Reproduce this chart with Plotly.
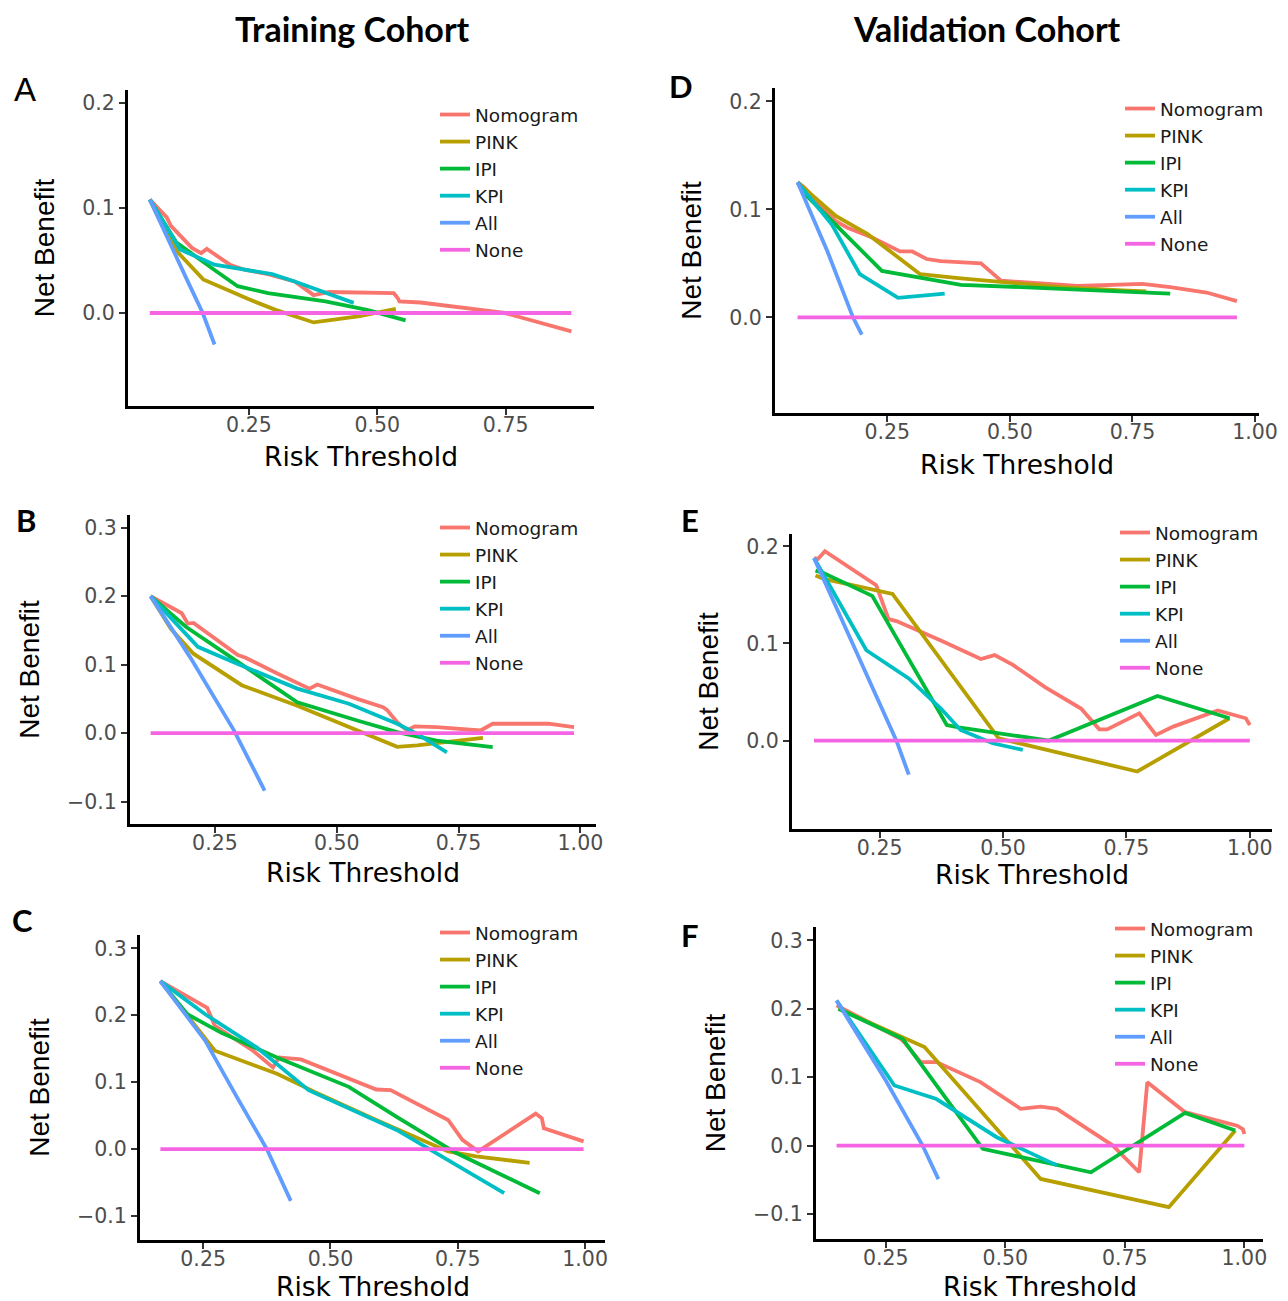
import plotly.graph_objects as go

W, H = 1288, 1301

SERIES = ["Nomogram", "PINK", "IPI", "KPI", "All", "None"]
COLORS = ["#F8766D", "#B79F00", "#00BA38", "#00BFC4", "#619CFF", "#F564E3"]
X_TICKS = [0.25, 0.50, 0.75, 1.00]
Y_TICKS = [-0.1, 0.0, 0.1, 0.2, 0.3]

# ---- Panel A (Training) ----
A_nomogram_x = [0.057, 0.090, 0.098, 0.139, 0.157, 0.168, 0.213, 0.243, 0.287, 0.339, 0.362, 0.376, 0.406, 0.532, 0.540, 0.543, 0.584, 0.748, 0.878]
A_nomogram_y = [0.108, 0.091, 0.083, 0.062, 0.057, 0.061, 0.046, 0.041, 0.037, 0.030, 0.022, 0.017, 0.020, 0.019, 0.014, 0.011, 0.010, 0.000, -0.0175]
A_pink_x = [0.057, 0.085, 0.113, 0.161, 0.250, 0.302, 0.376, 0.466, 0.536]
A_pink_y = [0.108, 0.080, 0.057, 0.032, 0.013, 0.003, -0.009, -0.003, 0.004]
A_ipi_x = [0.057, 0.109, 0.183, 0.228, 0.287, 0.399, 0.480, 0.555]
A_ipi_y = [0.108, 0.067, 0.041, 0.0255, 0.019, 0.011, 0.003, -0.007]
A_kpi_x = [0.057, 0.116, 0.183, 0.243, 0.295, 0.339, 0.399, 0.454]
A_kpi_y = [0.108, 0.0605, 0.046, 0.041, 0.037, 0.030, 0.019, 0.0096]
A_all_x = [0.057, 0.100, 0.129, 0.160, 0.183]
A_all_y = [0.108, 0.062, 0.032, 0.000, -0.030]
A_none_x = [0.057, 0.878]
A_none_y = [0.0, 0.0]

# ---- Panel B (Training) ----
B_nomogram_x = [0.118, 0.182, 0.194, 0.206, 0.297, 0.313, 0.378, 0.444, 0.460, 0.542, 0.595, 0.603, 0.624, 0.644, 0.660, 0.705, 0.795, 0.820, 0.934, 0.987]
B_nomogram_y = [0.200, 0.175, 0.160, 0.161, 0.114, 0.110, 0.087, 0.065, 0.071, 0.050, 0.038, 0.034, 0.016, 0.004, 0.0098, 0.0088, 0.0039, 0.0137, 0.0137, 0.0088]
B_pink_x = [0.118, 0.160, 0.206, 0.305, 0.419, 0.542, 0.624, 0.665, 0.800]
B_pink_y = [0.200, 0.152, 0.116, 0.070, 0.040, 0.004, -0.020, -0.018, -0.007]
B_ipi_x = [0.118, 0.191, 0.297, 0.419, 0.542, 0.624, 0.705, 0.820]
B_ipi_y = [0.200, 0.155, 0.104, 0.045, 0.0185, 0.0015, -0.011, -0.0205]
B_kpi_x = [0.118, 0.215, 0.297, 0.419, 0.525, 0.624, 0.665, 0.726]
B_kpi_y = [0.200, 0.126, 0.101, 0.065, 0.043, 0.0137, -0.001, -0.028]
B_all_x = [0.118, 0.199, 0.289, 0.352]
B_all_y = [0.200, 0.111, 0.004, -0.084]
B_none_x = [0.118, 0.987]
B_none_y = [0.0, 0.0]

# ---- Panel C (Training) ----
C_nomogram_x = [0.166, 0.250, 0.258, 0.273, 0.348, 0.387, 0.399, 0.442, 0.504, 0.575, 0.590, 0.618, 0.731, 0.759, 0.790, 0.903, 0.915, 0.919, 0.997]
C_nomogram_y = [0.251, 0.215, 0.211, 0.184, 0.147, 0.122, 0.137, 0.134, 0.115, 0.093, 0.089, 0.088, 0.0435, 0.0138, -0.0035, 0.053, 0.046, 0.031, 0.0114]
C_pink_x = [0.166, 0.273, 0.395, 0.473, 0.590, 0.731, 0.786, 0.891]
C_pink_y = [0.251, 0.147, 0.1126, 0.084, 0.0435, -0.0035, -0.011, -0.0207]
C_ipi_x = [0.166, 0.219, 0.285, 0.395, 0.536, 0.630, 0.747, 0.911]
C_ipi_y = [0.251, 0.2015, 0.174, 0.137, 0.093, 0.048, -0.006, -0.066]
C_kpi_x = [0.166, 0.254, 0.355, 0.457, 0.630, 0.708, 0.841]
C_kpi_y = [0.251, 0.2015, 0.152, 0.088, 0.0286, -0.006, -0.066]
C_all_x = [0.166, 0.254, 0.316, 0.375, 0.422]
C_all_y = [0.251, 0.162, 0.078, 0.0, -0.0775]
C_none_x = [0.166, 0.997]
C_none_y = [0.0, 0.0]

# ---- Panel D (Validation) ----
D_nomogram_x = [0.067, 0.079, 0.145, 0.169, 0.219, 0.276, 0.301, 0.330, 0.359, 0.441, 0.482, 0.638, 0.770, 0.827, 0.901, 0.963]
D_nomogram_y = [0.125, 0.121, 0.089, 0.083, 0.074, 0.061, 0.061, 0.054, 0.052, 0.050, 0.034, 0.029, 0.031, 0.028, 0.023, 0.015]
D_pink_x = [0.067, 0.145, 0.210, 0.317, 0.400, 0.498, 0.605, 0.729, 0.778]
D_pink_y = [0.125, 0.094, 0.077, 0.040, 0.036, 0.032, 0.028, 0.025, 0.024]
D_ipi_x = [0.067, 0.087, 0.239, 0.276, 0.400, 0.523, 0.827]
D_ipi_y = [0.125, 0.112, 0.043, 0.040, 0.030, 0.028, 0.022]
D_kpi_x = [0.067, 0.087, 0.137, 0.194, 0.272, 0.367]
D_kpi_y = [0.125, 0.114, 0.086, 0.040, 0.018, 0.022]
D_all_x = [0.067, 0.128, 0.180, 0.198]
D_all_y = [0.125, 0.061, 0.0, -0.016]
D_none_x = [0.067, 0.963]
D_none_y = [0.0, 0.0]

# ---- Panel E (Validation) ----
E_nomogram_x = [0.117, 0.125, 0.139, 0.243, 0.268, 0.284, 0.374, 0.455, 0.483, 0.520, 0.585, 0.658, 0.695, 0.711, 0.776, 0.810, 0.845, 0.935, 0.992, 1.000]
E_nomogram_y = [0.188, 0.187, 0.195, 0.160, 0.125, 0.123, 0.103, 0.084, 0.088, 0.078, 0.055, 0.033, 0.0116, 0.0116, 0.028, 0.0058, 0.0144, 0.031, 0.023, 0.016]
E_pink_x = [0.120, 0.137, 0.276, 0.491, 0.772, 0.959]
E_pink_y = [0.170, 0.1665, 0.151, 0.0024, -0.0318, 0.023]
E_ipi_x = [0.120, 0.134, 0.235, 0.386, 0.410, 0.593, 0.813, 0.959]
E_ipi_y = [0.175, 0.173, 0.149, 0.016, 0.0137, 0.0, 0.046, 0.023]
E_kpi_x = [0.117, 0.178, 0.223, 0.309, 0.374, 0.414, 0.479, 0.540]
E_kpi_y = [0.188, 0.134, 0.093, 0.064, 0.033, 0.011, -0.0027, -0.0096]
E_all_x = [0.117, 0.200, 0.284, 0.309]
E_all_y = [0.188, 0.094, 0.0, -0.035]
E_none_x = [0.117, 1.000]
E_none_y = [0.0, 0.0]

# ---- Panel F (Validation) ----
F_nomogram_x = [0.147, 0.281, 0.289, 0.323, 0.356, 0.448, 0.532, 0.574, 0.608, 0.725, 0.780, 0.797, 0.876, 0.985, 0.997, 1.000]
F_nomogram_y = [0.205, 0.156, 0.151, 0.122, 0.122, 0.0927, 0.0537, 0.057, 0.0537, 0.0, -0.039, 0.0927, 0.0488, 0.029, 0.024, 0.017]
F_pink_x = [0.151, 0.281, 0.331, 0.574, 0.842, 0.981]
F_pink_y = [0.200, 0.1585, 0.144, -0.0488, -0.090, 0.022]
F_ipi_x = [0.151, 0.285, 0.453, 0.679, 0.876, 0.981]
F_ipi_y = [0.200, 0.156, -0.0049, -0.039, 0.0478, 0.022]
F_kpi_x = [0.147, 0.268, 0.356, 0.482, 0.608]
F_kpi_y = [0.212, 0.0878, 0.068, 0.0122, -0.029]
F_all_x = [0.147, 0.250, 0.327, 0.360]
F_all_y = [0.212, 0.095, 0.0, -0.049]
F_none_x = [0.147, 1.000]
F_none_y = [0.0, 0.0]

PANELS = {
    "A": [(A_nomogram_x, A_nomogram_y), (A_pink_x, A_pink_y), (A_ipi_x, A_ipi_y), (A_kpi_x, A_kpi_y), (A_all_x, A_all_y), (A_none_x, A_none_y)],
    "D": [(D_nomogram_x, D_nomogram_y), (D_pink_x, D_pink_y), (D_ipi_x, D_ipi_y), (D_kpi_x, D_kpi_y), (D_all_x, D_all_y), (D_none_x, D_none_y)],
    "B": [(B_nomogram_x, B_nomogram_y), (B_pink_x, B_pink_y), (B_ipi_x, B_ipi_y), (B_kpi_x, B_kpi_y), (B_all_x, B_all_y), (B_none_x, B_none_y)],
    "E": [(E_nomogram_x, E_nomogram_y), (E_pink_x, E_pink_y), (E_ipi_x, E_ipi_y), (E_kpi_x, E_kpi_y), (E_all_x, E_all_y), (E_none_x, E_none_y)],
    "C": [(C_nomogram_x, C_nomogram_y), (C_pink_x, C_pink_y), (C_ipi_x, C_ipi_y), (C_kpi_x, C_kpi_y), (C_all_x, C_all_y), (C_none_x, C_none_y)],
    "F": [(F_nomogram_x, F_nomogram_y), (F_pink_x, F_pink_y), (F_ipi_x, F_ipi_y), (F_kpi_x, F_kpi_y), (F_all_x, F_all_y), (F_none_x, F_none_y)],
}

# layout geometry (pixels): plot box, axis ranges, legend anchor, panel letter position, x-title centre y
GEOM = {
    "A": dict(box=(128, 594, 90, 406), xr=(0.0145, 0.922), yr=(-0.0886, 0.2124), leg=(435, 96), let=(25, 90), xt=457),
    "D": dict(box=(775, 1259, 88, 413), xr=(0.021, 1.008), yr=(-0.0886, 0.2124), leg=(1120, 90), let=(681, 86), xt=464),
    "B": dict(box=(130, 596, 515, 824), xr=(0.0757, 1.032), yr=(-0.1327, 0.3185), leg=(435, 509), let=(26, 520), xt=872),
    "E": dict(box=(792, 1272, 534, 829), xr=(0.0724, 1.045), yr=(-0.091, 0.2127), leg=(1115, 514), let=(690, 520), xt=874),
    "C": dict(box=(140, 605, 935, 1240), xr=(0.126, 1.039), yr=(-0.136, 0.32), leg=(435, 914), let=(22, 920), xt=1286),
    "F": dict(box=(816, 1263, 927, 1239), xr=(0.104, 1.039), yr=(-0.1366, 0.3195), leg=(1110, 910), let=(690, 935), xt=1286),
}

TICK_FONT = "DejaVu Sans, Verdana, sans-serif"
fig = go.Figure()
layout = dict(
    width=W, height=H, margin=dict(l=0, r=0, t=0, b=0),
    paper_bgcolor="white", plot_bgcolor="white",
    font=dict(family="Liberation Sans, Arial, sans-serif", color="black"),
)
annotations = []

for i, key in enumerate(["A", "D", "B", "E", "C", "F"]):
    n = i + 1
    sfx = "" if n == 1 else str(n)
    g = GEOM[key]
    l, r, t, b = g["box"]
    legname = "legend" if n == 1 else f"legend{n}"
    for (xs, ys), name, col in zip(PANELS[key], SERIES, COLORS):
        fig.add_trace(go.Scatter(
            x=xs, y=ys, mode="lines", name=name,
            line=dict(color=col, width=3.8),
            xaxis="x" + sfx, yaxis="y" + sfx, legend=legname,
        ))
    axis_common = dict(
        showline=True, linecolor="black", linewidth=3.2, mirror=False,
        ticks="outside", ticklen=6, tickwidth=2.2, tickcolor="#333333",
        showgrid=False, zeroline=False, automargin=False,
        tickfont=dict(size=20.5, color="#4d4d4d", family=TICK_FONT),
    )
    layout["xaxis" + sfx] = dict(
        axis_common, domain=[l / W, r / W], range=list(g["xr"]),
        anchor="y" + sfx, tickvals=X_TICKS, tickformat=".2f",
        ticklabelstandoff=-8,
    )
    layout["yaxis" + sfx] = dict(
        axis_common, domain=[1 - b / H, 1 - t / H], range=list(g["yr"]),
        anchor="x" + sfx, tickvals=Y_TICKS, tickformat=".1f",
        title=dict(text="Net Benefit", font=dict(size=28, color="black"), standoff=20),
    )
    # x-axis title
    annotations.append(dict(
        text="Risk Threshold", x=(l + r) / 2 / W, y=1 - g["xt"] / H,
        xref="paper", yref="paper", showarrow=False,
        xanchor="center", yanchor="middle",
        font=dict(size=26.5, color="black", family=TICK_FONT),
    ))
    lx, ly = g["leg"]
    layout[legname] = dict(
        x=lx / W, y=1 - ly / H, xanchor="left", yanchor="top",
        bgcolor="rgba(0,0,0,0)", font=dict(size=18.5, color="#1a1a1a", family=TICK_FONT),
        itemwidth=30, tracegroupgap=0,
    )
    ax, ay = g["let"]
    if key == "A":
        letter = dict(text="A", font=dict(size=33, family="Liberation Sans, Arial, sans-serif", color="black"))
    else:
        letter = dict(text=f"<b>{key}</b>", font=dict(size=31, family="Lato, Open Sans, sans-serif", color="black"))
    annotations.append(dict(
        letter, x=ax / W, y=1 - ay / H, xref="paper", yref="paper",
        showarrow=False, xanchor="center", yanchor="middle",
    ))

for title, cx in (("Training Cohort", 352), ("Validation Cohort", 987)):
    annotations.append(dict(
        text=f"<b>{title}</b>", x=cx / W, y=1 - 28 / H, xref="paper", yref="paper",
        showarrow=False, xanchor="center", yanchor="middle",
        font=dict(size=34, family="Lato, Open Sans, sans-serif", color="black"),
    ))
layout["annotations"] = annotations
fig.update_layout(**layout)
fig.write_html("out.html")
